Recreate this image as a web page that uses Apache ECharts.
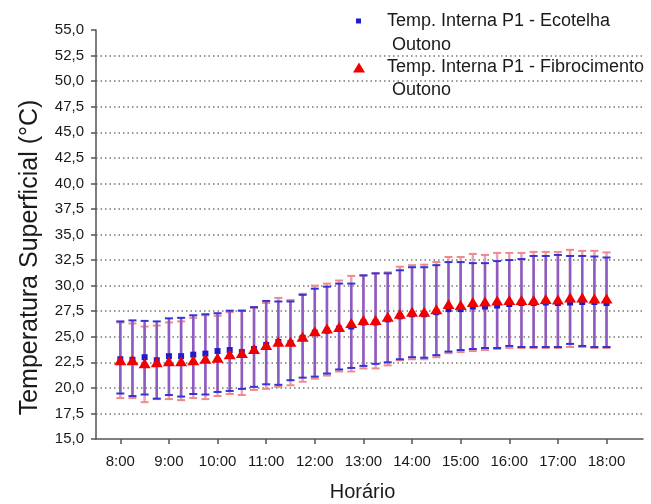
<!DOCTYPE html>
<html>
<head>
<meta charset="utf-8">
<title>Temperatura Superficial - Outono</title>
<script src="https://cdn.jsdelivr.net/npm/echarts@6/dist/echarts.min.js"></script>
<style>
  html, body { margin: 0; padding: 0; background: #fff; }
  #chart { width: 651px; height: 504px; }
</style>
</head>
<body>
<div id="chart"></div>
<script>
// horarios das medicoes (15 em 15 min)
const horarios = ['8:00', '8:15', '8:30', '8:45', '9:00', '9:15', '9:30', '9:45',
  '10:00', '10:15', '10:30', '10:45', '11:00', '11:15', '11:30', '11:45',
  '12:00', '12:15', '12:30', '12:45', '13:00', '13:15', '13:30', '13:45',
  '14:00', '14:15', '14:30', '14:45', '15:00', '15:15', '15:30', '15:45',
  '16:00', '16:15', '16:30', '16:45', '17:00', '17:15', '17:30', '17:45', '18:00']
const rotulosX = ['8:00', '9:00', '10:00', '11:00', '12:00', '13:00', '14:00', '15:00', '16:00', '17:00', '18:00']

// Ecotelha
const ecoMedia = [22.8, 22.75, 23.0, 22.7, 23.1, 23.1, 23.25, 23.35, 23.6, 23.7,
  23.5, 23.8, 24.2, 24.5, 24.4, 24.9, 25.4, 25.6, 25.8, 26.0,
  26.4, 26.4, 26.7, 27.0, 27.2, 27.2, 27.4, 27.7, 27.7, 27.95,
  27.95, 28.05, 28.2, 28.3, 28.3, 28.35, 28.3, 28.35, 28.4, 28.4, 28.3]
const ecoMax = [26.5, 26.6, 26.55, 26.5, 26.8, 26.85, 27.1, 27.2, 27.3, 27.55,
  27.55, 27.9, 28.5, 28.45, 28.45, 29.1, 29.7, 29.9, 30.2, 30.2,
  31.0, 31.2, 31.2, 31.5, 31.8, 31.8, 32.0, 32.3, 32.3, 32.2,
  32.2, 32.4, 32.5, 32.6, 32.9, 32.9, 33.0, 32.9, 32.9, 32.85, 32.75]
const ecoMin = [19.45, 19.2, 19.35, 18.95, 19.3, 19.15, 19.4, 19.35, 19.6, 19.7,
  19.9, 20.1, 20.35, 20.3, 20.75, 21.0, 21.1, 21.4, 21.8, 21.95,
  22.15, 22.35, 22.5, 22.8, 23.0, 22.95, 23.2, 23.55, 23.7, 23.8,
  23.9, 23.9, 24.1, 24.0, 24.0, 24.0, 24.0, 24.3, 24.1, 24.0, 24.0]

// Fibrocimento
const fibroMedia = [22.7, 22.7, 22.4, 22.5, 22.6, 22.6, 22.7, 22.85, 22.95, 23.3,
  23.4, 23.8, 24.2, 24.5, 24.5, 25.0, 25.55, 25.8, 25.95, 26.35,
  26.65, 26.65, 26.95, 27.25, 27.45, 27.45, 27.7, 28.2, 28.1, 28.4,
  28.45, 28.55, 28.6, 28.6, 28.6, 28.7, 28.65, 28.85, 28.85, 28.75, 28.75]
const fibroMax = [26.4, 26.3, 26.0, 26.1, 26.4, 26.5, 26.85, 27.1, 27.05, 27.4,
  27.55, 27.8, 28.3, 28.8, 28.6, 29.2, 30.0, 30.2, 30.5, 30.95,
  31.0, 31.2, 31.3, 31.85, 32.0, 32.05, 32.3, 32.8, 32.8, 33.1,
  33.0, 33.2, 33.2, 33.2, 33.3, 33.3, 33.3, 33.5, 33.4, 33.4, 33.25]
const fibroMin = [19.0, 19.0, 18.6, 18.9, 18.9, 18.8, 19.0, 18.9, 19.2, 19.4,
  19.3, 19.8, 19.9, 20.1, 20.25, 20.6, 20.9, 21.2, 21.6, 21.6,
  21.9, 21.9, 22.2, 22.7, 22.8, 22.8, 23.0, 23.4, 23.5, 23.6,
  23.7, 23.8, 23.9, 23.9, 23.9, 23.9, 23.9, 24.0, 24.0, 23.9, 23.9]

const nomeEco = 'Temp. Interna P1 - Ecotelha\n Outono'
const nomeFibro = 'Temp. Interna P1 - Fibrocimento\n Outono'
const fonte = 'Liberation Sans'

// '8:15' -> 8.25
function horaNum(s) {
  const partes = s.split(':')
  return Number(partes[0]) + Number(partes[1]) / 60
}
const xs = horarios.map(horaNum)
const ticksX = rotulosX.map(horaNum)

function barraErro(corLinha, corTraco) {
  return function (params, api) {
    const x = api.value(0)
    const baixo = api.coord([x, api.value(1)])
    const alto = api.coord([x, api.value(2)])
    const w = 4
    const traco = { stroke: corTraco, lineWidth: 2 }
    return {
      type: 'group',
      children: [
        { type: 'line', shape: { x1: baixo[0], y1: baixo[1], x2: alto[0], y2: alto[1] }, style: { stroke: corLinha, lineWidth: 2.5 } },
        { type: 'line', shape: { x1: baixo[0] - w, y1: baixo[1], x2: baixo[0] + w, y2: baixo[1] }, style: traco },
        { type: 'line', shape: { x1: alto[0] - w, y1: alto[1], x2: alto[0] + w, y2: alto[1] }, style: traco }
      ]
    }
  }
}

// linha em branco no topo: o icone fica alinhado com a 1a linha do texto
function textoLegenda(nome) {
  return '\n' + nome
}

const chart = echarts.init(document.getElementById('chart'))
const option = {
  animation: false,
  backgroundColor: '#fff',
  textStyle: { fontFamily: fonte },
  grid: { left: 96, right: 8, top: 30, bottom: 65, containLabel: false, outerBoundsMode: 'none' },
  legend: [
    {
      data: [{ name: nomeEco, icon: 'rect' }],
      formatter: textoLegenda,
      left: 356, top: -15, padding: 0,
      itemWidth: 5, itemHeight: 5,
      textStyle: { fontFamily: fonte, fontSize: 18, color: '#1a1a1a', lineHeight: 24, padding: [0, 0, 0, 21] }
    },
    {
      data: [{ name: nomeFibro, icon: 'triangle' }],
      formatter: textoLegenda,
      left: 353, top: 33, padding: 0,
      itemWidth: 12, itemHeight: 10,
      textStyle: { fontFamily: fonte, fontSize: 18, color: '#1a1a1a', lineHeight: 23, padding: [0, 0, 0, 17] }
    }
  ],
  xAxis: {
    type: 'value',
    min: 7.5,
    max: 18.75,
    name: 'Horário',
    nameLocation: 'middle',
    nameGap: 43,
    nameTextStyle: { fontFamily: fonte, fontSize: 20, color: '#1a1a1a', padding: [0, 14, 0, 0] },
    axisLine: { lineStyle: { color: '#555', width: 1.5 } },
    axisTick: { customValues: ticksX, length: 5, lineStyle: { color: '#555', width: 1.5 } },
    axisLabel: {
      customValues: ticksX,
      margin: 15,
      fontSize: 15,
      color: '#1a1a1a',
      formatter: function (v) {
        const i = ticksX.indexOf(v)
        return i >= 0 ? rotulosX[i] : ''
      }
    },
    splitLine: { show: false }
  },
  yAxis: {
    type: 'value',
    min: 15,
    max: 55,
    interval: 2.5,
    name: 'Temperatura Superficial (°C)',
    nameLocation: 'middle',
    nameGap: 53,
    nameTextStyle: { fontFamily: fonte, fontSize: 25, color: '#1a1a1a', padding: [0, 46, 0, 0] },
    axisLine: { show: true, lineStyle: { color: '#555', width: 1.5 } },
    axisTick: { show: true, length: 5, lineStyle: { color: '#555', width: 1.5 } },
    axisLabel: {
      margin: 12,
      fontSize: 15,
      color: '#1a1a1a',
      formatter: function (v) { return v.toFixed(1).replace('.', ',') }
    },
    splitLine: {
      show: true,
      showMinLine: false,
      showMaxLine: false,
      lineStyle: { color: '#777', type: [1.5, 3], width: 1.5 }
    }
  },
  series: [
    {
      type: 'custom',
      name: 'erro fibro',
      silent: true,
      renderItem: barraErro('#e9a3b8', '#f08a8a'),
      encode: { x: 0, y: [1, 2] },
      data: xs.map((x, i) => [x, fibroMin[i], fibroMax[i]])
    },
    {
      type: 'custom',
      name: 'erro eco',
      silent: true,
      renderItem: barraErro('#8a5cc4', '#3434d4'),
      encode: { x: 0, y: [1, 2] },
      data: xs.map((x, i) => [x, ecoMin[i], ecoMax[i]])
    },
    {
      type: 'scatter',
      name: nomeEco,
      symbol: 'rect',
      symbolSize: 6,
      itemStyle: { color: '#1c1ccf', opacity: 1 },
      data: xs.map((x, i) => [x, ecoMedia[i]])
    },
    {
      type: 'scatter',
      name: nomeFibro,
      symbol: 'triangle',
      symbolSize: [12, 10],
      itemStyle: { color: '#f20000', opacity: 1 },
      data: xs.map((x, i) => [x, fibroMedia[i]])
    }
  ]
}
chart.setOption(option)
</script>
</body>
</html>
